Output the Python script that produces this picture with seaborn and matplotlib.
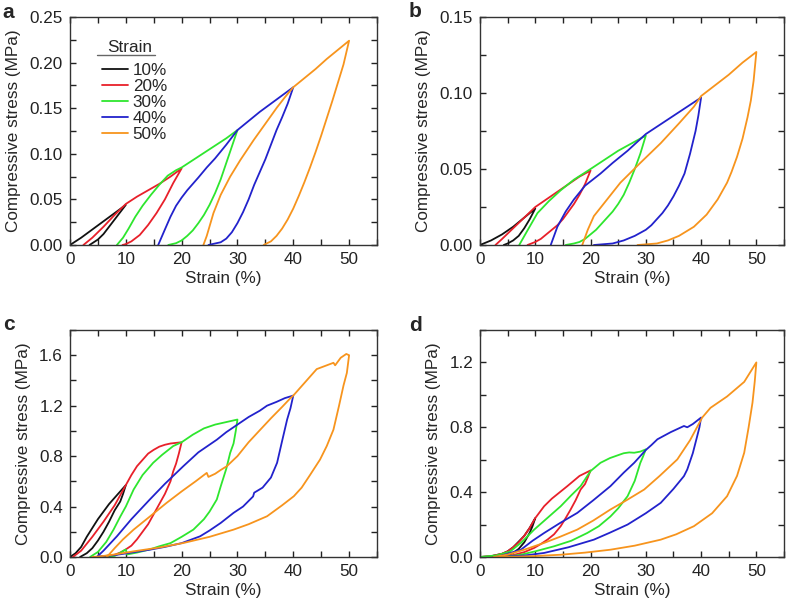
import pandas as pd
import matplotlib.pyplot as plt
import matplotlib.ticker as mticker
import seaborn as sns

# cycle labels and colours
cycles = ['10%', '20%', '30%', '40%', '50%']
colors = ['#111111', '#e8202a', '#2ee62e', '#2222cc', '#f7941d']

# ---- panel a : loading then unloading path for each cycle ----
a10_x = [0, 2, 4, 6, 8, 10, 9, 8, 7, 6, 5, 4, 3.5]
a10_y = [0, 0.008, 0.017, 0.026, 0.035, 0.044, 0.036, 0.028, 0.020, 0.012, 0.006, 0.002, 0]
a20_x = [2.4, 4, 6, 8, 10, 12, 14, 16, 18, 20, 18.5, 17, 15.5, 14, 12.5, 11, 10, 9.4]
a20_y = [0, 0.008, 0.020, 0.033, 0.045, 0.053, 0.060, 0.067, 0.075, 0.084,
         0.068, 0.050, 0.035, 0.022, 0.011, 0.004, 0.001, 0]
a30_x = [8.4, 9.5, 10.5, 11.7, 13, 14.5, 16, 17.5, 19, 20, 22, 24, 26, 28, 30,
         29, 28, 27, 26, 25, 24, 23, 22, 21, 20, 19, 17.6]
a30_y = [0, 0.008, 0.018, 0.031, 0.043, 0.055, 0.066, 0.076, 0.082, 0.085, 0.093, 0.101, 0.109, 0.117, 0.126,
         0.108, 0.090, 0.072, 0.057, 0.044, 0.033, 0.024, 0.016, 0.010, 0.005, 0.002, 0]
a40_x = [15.8, 17, 18, 19, 20, 21, 22, 23, 24.5, 26, 28, 30, 32, 34, 36, 38, 40,
         39, 38, 37, 36, 35, 34, 33, 32, 31, 30, 29, 28, 27, 25.5, 24.8]
a40_y = [0, 0.017, 0.031, 0.043, 0.052, 0.060, 0.067, 0.074, 0.085, 0.095, 0.110, 0.126, 0.136, 0.146, 0.155, 0.164, 0.173,
         0.155, 0.140, 0.126, 0.110, 0.094, 0.080, 0.066, 0.050, 0.036, 0.024, 0.014, 0.007, 0.003, 0.001, 0]
a50_x = [23.9, 24.5, 25.7, 27, 28.7, 30.5, 32.9, 35, 37.1, 38.5, 40, 42, 44, 46, 48, 50,
         49, 48, 47, 46, 45, 44, 43, 42, 41, 40, 39, 38, 37, 36, 35, 34.7]
a50_y = [0, 0.010, 0.035, 0.055, 0.075, 0.093, 0.115, 0.133, 0.151, 0.162, 0.173, 0.183, 0.193, 0.204, 0.214, 0.224,
         0.198, 0.178, 0.158, 0.139, 0.120, 0.102, 0.085, 0.069, 0.054, 0.040, 0.028, 0.018, 0.010, 0.004, 0.001, 0]

# ---- panel b ----
b10_x = [0, 2, 4, 6, 8, 10, 9, 8, 7, 6, 5, 4.3]
b10_y = [0, 0.003, 0.007, 0.012, 0.018, 0.024, 0.017, 0.011, 0.006, 0.003, 0.001, 0]
b20_x = [2.8, 4, 6, 8, 10, 12, 14, 16, 18, 20, 19, 18, 17, 16, 15, 14, 13, 12, 11, 10, 8.6]
b20_y = [0, 0.004, 0.011, 0.018, 0.025, 0.030, 0.035, 0.040, 0.045, 0.049,
         0.040, 0.033, 0.027, 0.022, 0.017, 0.013, 0.010, 0.007, 0.004, 0.002, 0]
b30_x = [7.1, 8.5, 10.4, 12.5, 14.6, 17, 20, 22.5, 25, 27.5, 30,
         29, 28, 27, 26, 25, 24, 23, 22, 21, 20, 19, 18, 17, 15.5]
b30_y = [0, 0.009, 0.021, 0.029, 0.036, 0.043, 0.050, 0.056, 0.062, 0.067, 0.072,
         0.060, 0.050, 0.041, 0.033, 0.027, 0.022, 0.018, 0.014, 0.010, 0.007, 0.004, 0.002, 0.001, 0]
b40_x = [12.8, 14, 15.5, 17, 19, 21.8, 24, 26.7, 30, 32.5, 35, 37.5, 40,
         39.5, 39, 38, 37, 36, 35, 34, 33, 32, 31, 30, 28, 26, 24, 20.6]
b40_y = [0, 0.012, 0.022, 0.030, 0.039, 0.047, 0.054, 0.062, 0.073, 0.079, 0.085, 0.091, 0.097,
         0.085, 0.075, 0.060, 0.047, 0.039, 0.032, 0.026, 0.021, 0.017, 0.013, 0.010, 0.006, 0.003, 0.001, 0]
b50_x = [18.5, 19.5, 20.6, 23, 25.4, 29, 32.7, 36, 38.7, 40, 42.5, 45, 47.5, 50,
         49.5, 49, 48.4, 47.5, 46.5, 45.5, 44.7, 43, 41, 38.7, 36, 34, 32, 28.5]
b50_y = [0, 0.010, 0.019, 0.030, 0.041, 0.054, 0.067, 0.080, 0.091, 0.098, 0.105, 0.112, 0.120, 0.127,
         0.108, 0.095, 0.084, 0.070, 0.058, 0.048, 0.041, 0.030, 0.020, 0.012, 0.006, 0.003, 0.001, 0]

# ---- panel c ----
c10_x = [0, 1, 2, 3, 4, 5, 6, 7, 8, 9, 10, 9.5, 9, 8, 7, 6, 5, 4, 3, 2, 1.8]
c10_y = [0, 0.03, 0.08, 0.16, 0.23, 0.30, 0.36, 0.42, 0.47, 0.52, 0.57,
         0.50, 0.44, 0.37, 0.28, 0.20, 0.13, 0.07, 0.03, 0.005, 0]
c20_x = [0.5, 2, 4, 6, 8, 10, 11, 12, 13, 14, 15, 16, 17, 18, 19, 20,
         19.5, 19, 18.5, 18, 17, 16, 15, 14, 13, 12, 11, 10, 9, 8, 7, 6, 5]
c20_y = [0, 0.05, 0.16, 0.28, 0.41, 0.57, 0.65, 0.72, 0.77, 0.82, 0.85, 0.875, 0.89, 0.90, 0.905, 0.91,
         0.82, 0.74, 0.68, 0.60, 0.50, 0.42, 0.34, 0.26, 0.20, 0.14, 0.09, 0.06, 0.035, 0.018, 0.008, 0.003, 0]
c30_x = [3.6, 5, 6.5, 7.8, 9, 10, 11.4, 13, 14.9, 16.5, 18.5, 20, 22, 24, 26, 28, 30,
         29.7, 29.3, 28.7, 28, 27, 26.3, 25, 24, 22.1, 20, 18, 16, 14.3, 12, 10.2, 10, 8, 6, 4.5]
c30_y = [0, 0.04, 0.12, 0.217, 0.32, 0.40, 0.535, 0.65, 0.747, 0.81, 0.88, 0.91, 0.97, 1.02, 1.05, 1.07, 1.09,
         1.00, 0.90, 0.826, 0.70, 0.56, 0.456, 0.36, 0.30, 0.217, 0.16, 0.11, 0.085, 0.06, 0.035, 0.02, 0.06, 0.008, 0.002, 0]
c40_x = [4.8, 6, 8.4, 11, 14.3, 17, 20.3, 23, 26.3, 28, 30, 32, 34, 35.3, 37, 38.5, 40,
         39.5, 38.9, 38, 37.1, 36, 34.5, 33, 32.8, 31, 29.3, 27, 25, 23.3, 20, 17, 14.3, 11, 8, 5.4, 4.8]
c40_y = [0, 0.05, 0.164, 0.30, 0.456, 0.58, 0.72, 0.83, 0.93, 0.99, 1.05, 1.11, 1.16, 1.20, 1.23, 1.26, 1.28,
         1.18, 1.09, 0.92, 0.747, 0.63, 0.55, 0.51, 0.48, 0.40, 0.35, 0.27, 0.21, 0.164, 0.11, 0.08, 0.058, 0.035, 0.015, 0.005, 0]
c50_x = [6.6, 8, 9.5, 11.4, 14, 17.3, 20, 22.5, 24.5, 24.8, 26, 27, 28.1, 30, 32, 34.1, 36, 38, 39.5, 40,
         42, 44.2, 46, 47.2, 47.5, 48.5, 49.5, 50,
         49.6, 49, 48.2, 47.2, 46, 44.8, 43, 41.5, 40.1, 38, 35.3, 32, 29.3, 25, 20.3, 16, 11.4, 8, 5.4, 4]
c50_y = [0, 0.07, 0.14, 0.217, 0.31, 0.429, 0.52, 0.60, 0.667, 0.635, 0.66, 0.69, 0.72, 0.80, 0.91, 1.01, 1.10, 1.19, 1.26, 1.28,
         1.38, 1.49, 1.52, 1.54, 1.52, 1.58, 1.61, 1.60,
         1.46, 1.36, 1.20, 1.01, 0.88, 0.773, 0.65, 0.55, 0.482, 0.41, 0.323, 0.26, 0.217, 0.16, 0.111, 0.075, 0.045, 0.02, 0.005, 0]

# ---- panel d ----
d10_x = [0, 2, 4, 5, 6, 7, 8, 9, 10, 9.5, 9, 8, 7, 6, 5, 4, 3]
d10_y = [0, 0.005, 0.02, 0.035, 0.06, 0.095, 0.13, 0.18, 0.24, 0.19, 0.15, 0.09, 0.05, 0.025, 0.01, 0.003, 0]
d20_x = [0, 2, 4, 5, 6, 7, 8, 9, 10, 11.6, 13, 15.8, 18, 20,
         19.5, 19, 18.2, 17.3, 16.4, 15.5, 14.6, 13.4, 12.2, 11, 9.8, 8, 6, 4, 2]
d20_y = [0, 0.005, 0.02, 0.035, 0.06, 0.09, 0.13, 0.18, 0.24, 0.313, 0.36, 0.437, 0.50, 0.534,
         0.49, 0.45, 0.416, 0.35, 0.293, 0.24, 0.19, 0.14, 0.107, 0.08, 0.056, 0.03, 0.012, 0.003, 0]
d30_x = [0, 3, 5.5, 7.5, 9.8, 12, 14.6, 16.5, 18.2, 20, 21.8, 23.5, 25.4, 26, 27, 27.9, 29, 30,
         29.5, 29, 28, 26.7, 25, 23.6, 21.5, 19.4, 16.5, 13.4, 10, 7.4, 5, 3]
d30_y = [0, 0.01, 0.035, 0.09, 0.169, 0.235, 0.313, 0.38, 0.437, 0.53, 0.581, 0.61, 0.633, 0.64, 0.645, 0.643, 0.65, 0.664,
         0.62, 0.58, 0.47, 0.375, 0.30, 0.25, 0.19, 0.148, 0.10, 0.066, 0.035, 0.014, 0.003, 0]
d40_x = [3, 5, 7.4, 9.5, 11.6, 14.5, 17.6, 20.5, 23.6, 26, 27.9, 30, 31, 32.1, 34.5, 36.9, 37.5, 38.5, 40,
         39.7, 39.3, 38.5, 37.5, 36.9, 35, 32.7, 30, 26.7, 23.5, 20.6, 16, 11.6, 8, 5.5, 4]
d40_y = [0, 0.02, 0.045, 0.10, 0.148, 0.21, 0.272, 0.35, 0.437, 0.52, 0.581, 0.66, 0.69, 0.726, 0.77, 0.808, 0.80, 0.82, 0.86,
         0.80, 0.746, 0.64, 0.54, 0.499, 0.42, 0.334, 0.27, 0.20, 0.15, 0.107, 0.06, 0.025, 0.009, 0.004, 0]
d50_x = [2.5, 5, 8, 11.6, 14.5, 17.6, 20.5, 23.6, 26.5, 29.7, 32.5, 35.7, 38, 40.2, 41.7, 44.7, 47.8, 50,
         49.7, 49.3, 48.6, 47.8, 46.5, 44.7, 42, 38.7, 35.5, 32.7, 28, 23.6, 19, 14.6, 10, 5.5, 3]
d50_y = [0, 0.015, 0.045, 0.087, 0.125, 0.169, 0.225, 0.293, 0.35, 0.416, 0.50, 0.602, 0.72, 0.86, 0.92, 0.99, 1.08, 1.20,
         1.08, 0.952, 0.80, 0.643, 0.50, 0.375, 0.27, 0.19, 0.14, 0.107, 0.07, 0.045, 0.027, 0.014, 0.006, 0.001, 0]

panels = {
    'a': ([a10_x, a20_x, a30_x, a40_x, a50_x], [a10_y, a20_y, a30_y, a40_y, a50_y]),
    'b': ([b10_x, b20_x, b30_x, b40_x, b50_x], [b10_y, b20_y, b30_y, b40_y, b50_y]),
    'c': ([c10_x, c20_x, c30_x, c40_x, c50_x], [c10_y, c20_y, c30_y, c40_y, c50_y]),
    'd': ([d10_x, d20_x, d30_x, d40_x, d50_x], [d10_y, d20_y, d30_y, d40_y, d50_y]),
}
y_limits = {'a': 0.25, 'b': 0.15, 'c': 1.8, 'd': 1.4}
y_major = {'a': 0.05, 'b': 0.05, 'c': 0.4, 'd': 0.4}
y_fmt = {'a': '%.2f', 'b': '%.2f', 'c': '%.1f', 'd': '%.1f'}

FS = 12.3

sns.set_theme(style='ticks')
plt.rcParams['font.family'] = ['Liberation Sans', 'DejaVu Sans']
plt.rcParams['font.size'] = FS

fig = plt.figure(figsize=(7.88, 6.06), dpi=100)
boxes = {
    'a': [70 / 788, 1 - 245 / 606, 307 / 788, 228 / 606],
    'b': [480 / 788, 1 - 245 / 606, 304 / 788, 228 / 606],
    'c': [70 / 788, 1 - 557 / 606, 307 / 788, 227 / 606],
    'd': [480 / 788, 1 - 557 / 606, 304 / 788, 227 / 606],
}
letter_pos = {'a': (2, 18), 'b': (409, 17), 'c': (3, 330), 'd': (409, 331)}

for key, (xs, ys) in panels.items():
    ax = fig.add_axes(boxes[key])
    frames = []
    for lab, x, y in zip(cycles, xs, ys):
        frames.append(pd.DataFrame({'strain': x, 'stress': y, 'Strain': lab}))
    df = pd.concat(frames, ignore_index=True)
    sns.lineplot(data=df, x='strain', y='stress', hue='Strain', palette=colors,
                 sort=False, estimator=None, lw=1.3, ax=ax, legend=(key == 'a'))

    ax.set_xlim(0, 55)
    ax.set_ylim(0, y_limits[key])
    ax.xaxis.set_major_locator(mticker.MultipleLocator(10))
    ax.xaxis.set_minor_locator(mticker.MultipleLocator(5))
    ax.yaxis.set_major_locator(mticker.MultipleLocator(y_major[key]))
    ax.yaxis.set_minor_locator(mticker.MultipleLocator(y_major[key] / 2))
    ax.yaxis.set_major_formatter(mticker.FormatStrFormatter(y_fmt[key]))
    ax.tick_params(which='both', direction='in', top=True, right=True,
                   length=4, width=1, labelsize=FS, pad=5, colors='#222222')
    for sp in ax.spines.values():
        sp.set_linewidth(1)
        sp.set_color('#333333')
    ax.set_xlabel('Strain (%)', fontsize=FS, labelpad=3)
    ax.set_ylabel('Compressive stress (MPa)', fontsize=FS, labelpad=6)

    lx, ly = letter_pos[key]
    fig.text(lx / 788, 1 - ly / 606, key, fontsize=15, fontweight='bold',
             ha='left', va='baseline')

    if key == 'a':
        # legend entries without title, title drawn separately with underline
        sns.move_legend(ax, 'upper left', bbox_to_anchor=(0.104, 0.797), frameon=False,
                        title=None, fontsize=FS,
                        handlelength=1.5, handletextpad=0.3, labelspacing=0.05,
                        borderpad=0, borderaxespad=0)
        ax.text(0.12, 0.868, 'Strain', transform=ax.transAxes, fontsize=FS,
                ha='left', va='center')
        ax.plot([0.088, 0.277], [0.833, 0.833], transform=ax.transAxes,
                color='#666666', lw=1)

fig.savefig('out.png', dpi=100)
